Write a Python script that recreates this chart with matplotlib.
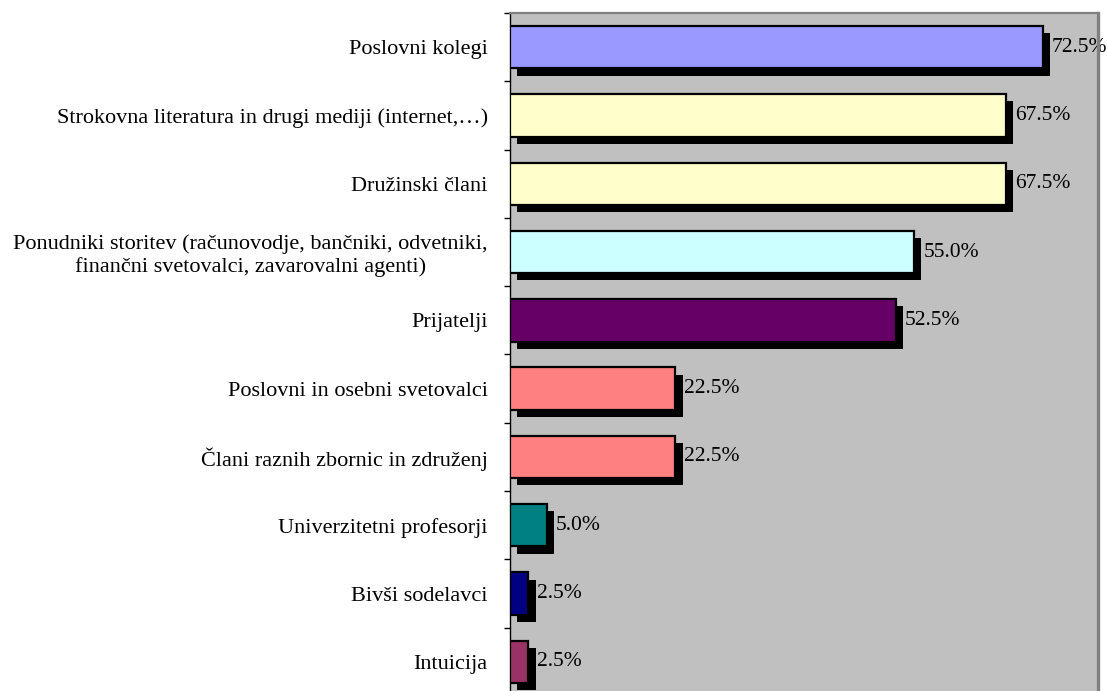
import numpy as np
import matplotlib
matplotlib.use("Agg")
import matplotlib.pyplot as plt
import matplotlib.patheffects as pe

kategorije = [
    "Poslovni kolegi",
    "Strokovna literatura in drugi mediji (internet,…)",
    "Družinski člani",
    "Ponudniki storitev (računovodje, bančniki, odvetniki,\nfinančni svetovalci, zavarovalni agenti)",
    "Prijatelji",
    "Poslovni in osebni svetovalci",
    "Člani raznih zbornic in združenj",
    "Univerzitetni profesorji",
    "Bivši sodelavci",
    "Intuicija",
]
delezi = [72.5, 67.5, 67.5, 55.0, 52.5, 22.5, 22.5, 5.0, 2.5, 2.5]
barve = ["#9999FF", "#FFFFCC", "#FFFFCC", "#CCFFFF", "#660066",
         "#FF8080", "#FF8080", "#008080", "#000080", "#993366"]

plt.rcParams["font.family"] = ["Liberation Serif", "DejaVu Serif"]

fig = plt.figure(figsize=(11.07, 6.91), dpi=100)
ax = fig.add_axes([0.4607, -0.0072, 0.5312, 0.9884])
ax.set_facecolor("#C0C0C0")

y = np.arange(len(kategorije))
senca = [pe.SimplePatchShadow(offset=(5.2, -5.2), shadow_rgbFace="black", alpha=1.0),
         pe.Normal()]
bars = ax.barh(y, delezi, height=0.62, color=barve, edgecolor="black",
               linewidth=1.6, zorder=3)
for b in bars:
    b.set_path_effects(senca)

for yi, v in zip(y, delezi):
    ax.annotate(f"{v:.1f}%", (v, yi), xytext=(6.5, 0), textcoords="offset points",
                ha="left", va="center", fontsize=15.5, zorder=2)

ax.set_xlim(0, 80)
ax.set_ylim(len(kategorije) - 0.5, -0.5)
ax.set_xticks([])
ax.set_yticks(y)
ax.set_yticklabels(kategorije, fontsize=16, multialignment="center",
                   linespacing=1.2)
ax.tick_params(axis="y", which="major", length=0, pad=16)
ax.set_yticks(np.arange(-0.5, len(kategorije)), minor=True)
ax.tick_params(axis="y", which="minor", length=4, width=1, direction="out",
               color="black")

ax.spines["left"].set_color("black")
ax.spines["left"].set_linewidth(1.0)
ax.spines["top"].set_color("#808080")
ax.spines["top"].set_linewidth(1.6)
ax.spines["right"].set_color("#808080")
ax.spines["right"].set_linewidth(2.4)
ax.spines["bottom"].set_visible(False)

fig.savefig("out.png", dpi=100)
